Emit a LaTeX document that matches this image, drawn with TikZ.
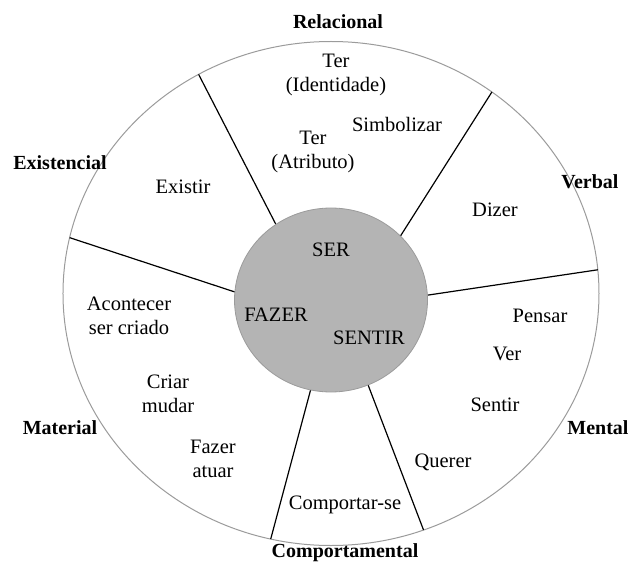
\documentclass[tikz,border=0pt]{standalone}
\usepackage{fontspec}
\setmainfont{Liberation Serif}
\usetikzlibrary{positioning}
\definecolor{nucleogray}{RGB}{180,180,180}
\definecolor{bordagray}{RGB}{155,155,155}
\tikzset{
  verbo/.style={font=\fontsize{20.5}{24}\selectfont,align=center,inner sep=0pt},
  tipo/.style={font=\fontsize{20}{24}\selectfont\bfseries,inner sep=0pt},
  raio/.style={line width=1.2pt,black}
}
\begin{document}
\begin{tikzpicture}[x=1pt,y=1pt]
\useasboundingbox (-331,-271.5) rectangle (306,293.5);
% outer wheel
\draw[bordagray,line width=1pt] (0,0) ellipse [x radius=268,y radius=252];
% spokes: inner angle / outer angle
\foreach \n/\a/\b in {1/124.8/119.6,2/44/53.1,3/3/5.4,4/-67.4/-69.8,5/257.8/257,6/175/167.2}{
  \coordinate (i\n) at ([shift={(0,-6.5)}]\a:96.5 and 92);
  \coordinate (o\n) at (\b:268 and 252);
  \draw[raio] (i\n) -- (o\n);
}
% core
\fill[nucleogray,draw=bordagray,line width=0.8pt] (0,-6.5) ellipse [x radius=96.5,y radius=92];
\node[verbo] (ser) at (0,43.5) {SER};
\node[verbo] (fazer) at (-55,-21) {FAZER};
\node[verbo] (sentir) at (38,-44.5) {SENTIR};
% process types
\node[tipo] (relacional) at (7,271.5) {Relacional};
\node[tipo] (existencial) at (-271,130.5) {Existencial};
\node[tipo] (verbal) at (259,111.5) {Verbal};
\node[tipo] (material) at (-271,-134) {Material};
\node[tipo] (mental) at (267,-134.5) {Mental};
\node[tipo] (comportamental) at (14,-259.5) {Comportamental};
% verbs
\node[verbo] (identidade) at (5,219) {Ter\\(Identidade)};
\node[verbo] (simbolizar) at (66,169.5) {Simbolizar};
\node[verbo] (atributo) at (-18,142) {Ter\\(Atributo)};
\node[verbo] (existir) at (-148,106.5) {Existir};
\node[verbo] (dizer) at (164,83.5) {Dizer};
\node[verbo] (acontecer) at (-202,-22) {Acontecer\\ser criado};
\node[verbo] (pensar) at (209,-22.5) {Pensar};
\node[verbo] (ver) at (176,-60.5) {Ver};
\node[verbo] (criar) at (-163,-100.5) {Criar\\mudar};
\node[verbo] (sentirm) at (164,-111.5) {Sentir};
\node[verbo] (fazerv) at (-118,-165.5) {Fazer\\atuar};
\node[verbo] (querer) at (112,-168.5) {Querer};
\node[verbo] (comportar) at (14,-211.5) {Comportar-se};
\end{tikzpicture}
\end{document}
